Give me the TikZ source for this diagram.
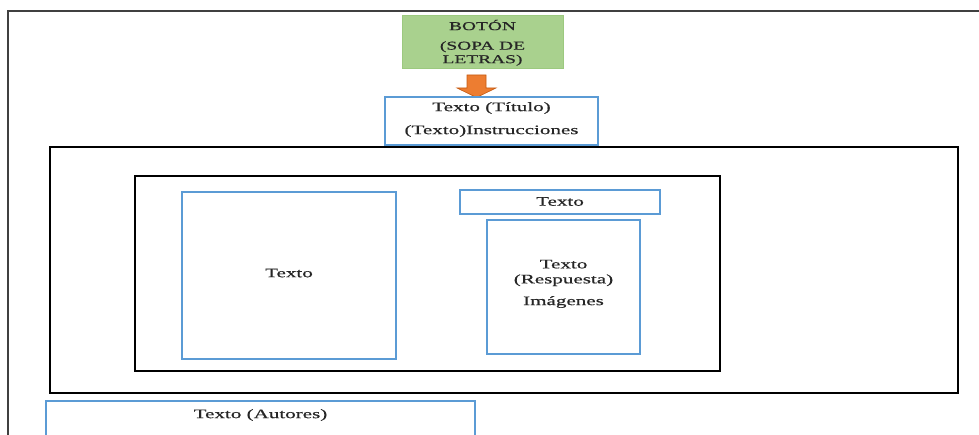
\documentclass[tikz,border=0pt]{standalone}
\usepackage{fontspec}
\setmainfont[FakeStretch=1.62,FakeBold=0.6]{Liberation Serif}
\definecolor{boxblue}{HTML}{5B9BD5}
\definecolor{btngreen}{HTML}{A9D18E}
\definecolor{btnedge}{HTML}{9CC97F}
\definecolor{arroworange}{HTML}{ED7D31}
\definecolor{arrowedge}{HTML}{C55A11}
\begin{document}
\begin{tikzpicture}[x=1pt,y=-1pt,
  txt/.style={font=\fontsize{13}{16}\selectfont,text=black!85,inner sep=0pt,align=center},
  btntxt/.style={font=\fontsize{12}{15}\selectfont,text=black!85,inner sep=0pt,align=center},
  frame/.style={draw=black,line width=1.6pt,inner sep=0pt},
  bluebox/.style={draw=boxblue,line width=1.6pt,inner sep=0pt,txt},
  btn/.style={draw=btnedge,fill=btngreen,line width=0.8pt,inner sep=0pt}]
\useasboundingbox (0,0) rectangle (979,435);
\clip (0,0) rectangle (979,435);
% page frame
\draw[line width=1.6pt,draw=black!75] (8,436) -- (8,11) -- (980,11);
% button
\node[btn,minimum width=161pt,minimum height=53pt] (boton) at (482.5,41.5) {};
\node[btntxt] (botonlbl) at (482.5,25) {BOTÓN};
\node[btntxt] (sopa) at (482.5,53.5) {(SOPA DE\\[-1.5pt]LETRAS)};
% arrow
\draw[fill=arroworange,draw=arrowedge,line width=0.6pt]
  (467,75) -- (486,75) -- (486,88) -- (496,88) -- (476.5,97.5) -- (457,88) -- (467,88) -- cycle;
% title box
\node[bluebox,minimum width=213pt,minimum height=48pt] (titulo) at (491.5,121) {};
\node[txt] (titlbl) at (491.5,108) {Texto (Título)};
\node[txt] (instr) at (491.5,131) {(Texto)Instrucciones};
% outer and inner frames
\node[frame,minimum width=908pt,minimum height=246pt] (marco) at (504,270) {};
\node[frame,minimum width=585pt,minimum height=195pt] (panel) at (427.5,273.5) {};
% left content box
\node[bluebox,minimum width=214pt,minimum height=167pt] (izq) at (289,275.5) {};
\node[txt] (izqlbl) at (289,273) {Texto};
% small header box
\node[bluebox,minimum width=200pt,minimum height=24pt] (cab) at (560,202) {};
\node[txt] (cablbl) at (560,201.5) {Texto};
% answer box
\node[bluebox,minimum width=153pt,minimum height=134pt] (resp) at (563.5,287) {};
\node[txt] (resplbl) at (563.5,273) {Texto\\[-1pt](Respuesta)};
\node[txt] (img) at (563.5,302) {Imágenes};
% authors box
\node[bluebox,minimum width=429pt,minimum height=50pt] (autores) at (260.5,426) {};
\node[txt] (autlbl) at (260.5,415) {Texto (Autores)};
\end{tikzpicture}
\end{document}
